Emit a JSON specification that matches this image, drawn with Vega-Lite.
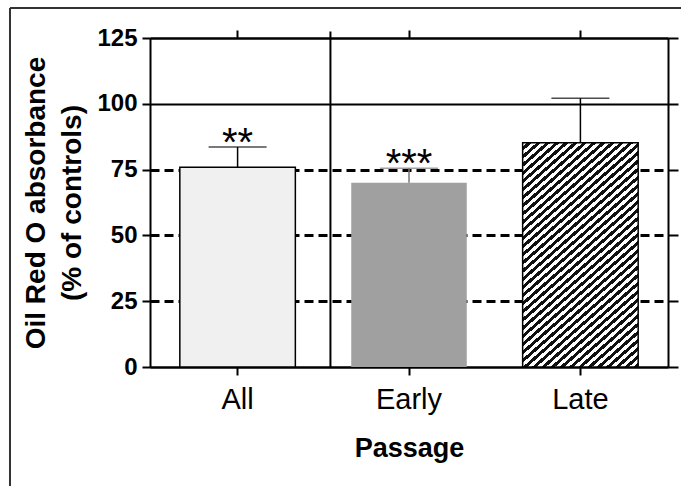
{
  "$schema": "https://vega.github.io/schema/vega-lite/v6.json",
  "width": 518,
  "height": 329,
  "autosize": "none",
  "padding": {"left": 150, "top": 38, "right": 13, "bottom": 119},
  "background": "white",
  "config": {"font": "Liberation Sans", "view": {"stroke": null}},
  "data": {"values": [
    {"group": "All", "value": 75.9, "upper": 83.6, "sig": "**"},
    {"group": "Early", "value": 70.0, "upper": 75.5, "sig": "***"},
    {"group": "Late", "value": 85.2, "upper": 102.1, "sig": ""}
  ]},
  "resolve": {"axis": {"x": "independent", "y": "independent"}},
  "layer": [
    {
      "transform": [{"filter": "datum.group === 'All'"}],
      "mark": {"type": "bar", "fill": "#f0f0f0", "stroke": "#000", "strokeWidth": 1.5},
      "encoding": {
        "x": {"field": "group", "type": "nominal",
          "scale": {"domain": ["All", "Early", "Late"], "paddingInner": 0.326, "paddingOuter": 0.174},
          "axis": {"orient": "bottom", "title": "Passage", "labelAngle": 0, "labelFontSize": 29, "labelFontWeight": "normal", "labelColor": "#000", "labelPadding": 10, "tickSize": 8, "tickWidth": 2, "tickColor": "#000", "domainWidth": 2, "domainColor": "#000", "titleFontSize": 27, "titleFontWeight": "bold", "titleColor": "#000", "titlePadding": 21}},
        "y": {"field": "value", "type": "quantitative",
          "scale": {"domain": [0, 125], "nice": false},
          "axis": {"orient": "left", "values": [0, 25, 50, 75, 100, 125], "title": ["Oil Red O absorbance", "(% of controls)"], "labelFontSize": 24, "labelFontWeight": "bold", "labelColor": "#000", "labelPadding": 5, "tickSize": 8, "tickWidth": 2, "tickColor": "#000", "domainWidth": 2, "domainColor": "#000", "grid": true, "gridColor": "#000", "gridOpacity": 1,
            "gridDash": {"condition": {"test": "datum.value >= 100 || datum.value === 0", "value": []}, "value": [9, 5]},
            "gridWidth": {"condition": {"test": "datum.value >= 100 || datum.value === 0", "value": 2}, "value": 3},
            "titleFontSize": 28, "titleFontWeight": "bold", "titleColor": "#000", "titleLineHeight": 36, "titlePadding": 10}}
      }
    },
    {
      "transform": [{"filter": "datum.group === 'Early'"}],
      "mark": {"type": "bar", "fill": "#a0a0a0"},
      "encoding": {
        "x": {"field": "group", "type": "nominal", "axis": null},
        "y": {"field": "value", "type": "quantitative", "axis": null}
      }
    },
    {
      "transform": [{"filter": "datum.group === 'Late'"}],
      "mark": {"type": "bar", "stroke": "#000", "strokeWidth": 1.5,
        "fill": {"gradient": "linear", "x1": 0, "y1": 0, "x2": 0.548, "y2": 1.205, "stops": [
          {"offset": 0, "color": "#fff"}, {"offset": 0.0125, "color": "#fff"}, {"offset": 0.0125, "color": "#111"}, {"offset": 0.025, "color": "#111"},
          {"offset": 0.025, "color": "#fff"}, {"offset": 0.0375, "color": "#fff"}, {"offset": 0.0375, "color": "#111"}, {"offset": 0.05, "color": "#111"},
          {"offset": 0.05, "color": "#fff"}, {"offset": 0.0625, "color": "#fff"}, {"offset": 0.0625, "color": "#111"}, {"offset": 0.075, "color": "#111"},
          {"offset": 0.075, "color": "#fff"}, {"offset": 0.0875, "color": "#fff"}, {"offset": 0.0875, "color": "#111"}, {"offset": 0.1, "color": "#111"},
          {"offset": 0.1, "color": "#fff"}, {"offset": 0.1125, "color": "#fff"}, {"offset": 0.1125, "color": "#111"}, {"offset": 0.125, "color": "#111"},
          {"offset": 0.125, "color": "#fff"}, {"offset": 0.1375, "color": "#fff"}, {"offset": 0.1375, "color": "#111"}, {"offset": 0.15, "color": "#111"},
          {"offset": 0.15, "color": "#fff"}, {"offset": 0.1625, "color": "#fff"}, {"offset": 0.1625, "color": "#111"}, {"offset": 0.175, "color": "#111"},
          {"offset": 0.175, "color": "#fff"}, {"offset": 0.1875, "color": "#fff"}, {"offset": 0.1875, "color": "#111"}, {"offset": 0.2, "color": "#111"},
          {"offset": 0.2, "color": "#fff"}, {"offset": 0.2125, "color": "#fff"}, {"offset": 0.2125, "color": "#111"}, {"offset": 0.225, "color": "#111"},
          {"offset": 0.225, "color": "#fff"}, {"offset": 0.2375, "color": "#fff"}, {"offset": 0.2375, "color": "#111"}, {"offset": 0.25, "color": "#111"},
          {"offset": 0.25, "color": "#fff"}, {"offset": 0.2625, "color": "#fff"}, {"offset": 0.2625, "color": "#111"}, {"offset": 0.275, "color": "#111"},
          {"offset": 0.275, "color": "#fff"}, {"offset": 0.2875, "color": "#fff"}, {"offset": 0.2875, "color": "#111"}, {"offset": 0.3, "color": "#111"},
          {"offset": 0.3, "color": "#fff"}, {"offset": 0.3125, "color": "#fff"}, {"offset": 0.3125, "color": "#111"}, {"offset": 0.325, "color": "#111"},
          {"offset": 0.325, "color": "#fff"}, {"offset": 0.3375, "color": "#fff"}, {"offset": 0.3375, "color": "#111"}, {"offset": 0.35, "color": "#111"},
          {"offset": 0.35, "color": "#fff"}, {"offset": 0.3625, "color": "#fff"}, {"offset": 0.3625, "color": "#111"}, {"offset": 0.375, "color": "#111"},
          {"offset": 0.375, "color": "#fff"}, {"offset": 0.3875, "color": "#fff"}, {"offset": 0.3875, "color": "#111"}, {"offset": 0.4, "color": "#111"},
          {"offset": 0.4, "color": "#fff"}, {"offset": 0.4125, "color": "#fff"}, {"offset": 0.4125, "color": "#111"}, {"offset": 0.425, "color": "#111"},
          {"offset": 0.425, "color": "#fff"}, {"offset": 0.4375, "color": "#fff"}, {"offset": 0.4375, "color": "#111"}, {"offset": 0.45, "color": "#111"},
          {"offset": 0.45, "color": "#fff"}, {"offset": 0.4625, "color": "#fff"}, {"offset": 0.4625, "color": "#111"}, {"offset": 0.475, "color": "#111"},
          {"offset": 0.475, "color": "#fff"}, {"offset": 0.4875, "color": "#fff"}, {"offset": 0.4875, "color": "#111"}, {"offset": 0.5, "color": "#111"},
          {"offset": 0.5, "color": "#fff"}, {"offset": 0.5125, "color": "#fff"}, {"offset": 0.5125, "color": "#111"}, {"offset": 0.525, "color": "#111"},
          {"offset": 0.525, "color": "#fff"}, {"offset": 0.5375, "color": "#fff"}, {"offset": 0.5375, "color": "#111"}, {"offset": 0.55, "color": "#111"},
          {"offset": 0.55, "color": "#fff"}, {"offset": 0.5625, "color": "#fff"}, {"offset": 0.5625, "color": "#111"}, {"offset": 0.575, "color": "#111"},
          {"offset": 0.575, "color": "#fff"}, {"offset": 0.5875, "color": "#fff"}, {"offset": 0.5875, "color": "#111"}, {"offset": 0.6, "color": "#111"},
          {"offset": 0.6, "color": "#fff"}, {"offset": 0.6125, "color": "#fff"}, {"offset": 0.6125, "color": "#111"}, {"offset": 0.625, "color": "#111"},
          {"offset": 0.625, "color": "#fff"}, {"offset": 0.6375, "color": "#fff"}, {"offset": 0.6375, "color": "#111"}, {"offset": 0.65, "color": "#111"},
          {"offset": 0.65, "color": "#fff"}, {"offset": 0.6625, "color": "#fff"}, {"offset": 0.6625, "color": "#111"}, {"offset": 0.675, "color": "#111"},
          {"offset": 0.675, "color": "#fff"}, {"offset": 0.6875, "color": "#fff"}, {"offset": 0.6875, "color": "#111"}, {"offset": 0.7, "color": "#111"},
          {"offset": 0.7, "color": "#fff"}, {"offset": 0.7125, "color": "#fff"}, {"offset": 0.7125, "color": "#111"}, {"offset": 0.725, "color": "#111"},
          {"offset": 0.725, "color": "#fff"}, {"offset": 0.7375, "color": "#fff"}, {"offset": 0.7375, "color": "#111"}, {"offset": 0.75, "color": "#111"},
          {"offset": 0.75, "color": "#fff"}, {"offset": 0.7625, "color": "#fff"}, {"offset": 0.7625, "color": "#111"}, {"offset": 0.775, "color": "#111"},
          {"offset": 0.775, "color": "#fff"}, {"offset": 0.7875, "color": "#fff"}, {"offset": 0.7875, "color": "#111"}, {"offset": 0.8, "color": "#111"},
          {"offset": 0.8, "color": "#fff"}, {"offset": 0.8125, "color": "#fff"}, {"offset": 0.8125, "color": "#111"}, {"offset": 0.825, "color": "#111"},
          {"offset": 0.825, "color": "#fff"}, {"offset": 0.8375, "color": "#fff"}, {"offset": 0.8375, "color": "#111"}, {"offset": 0.85, "color": "#111"},
          {"offset": 0.85, "color": "#fff"}, {"offset": 0.8625, "color": "#fff"}, {"offset": 0.8625, "color": "#111"}, {"offset": 0.875, "color": "#111"},
          {"offset": 0.875, "color": "#fff"}, {"offset": 0.8875, "color": "#fff"}, {"offset": 0.8875, "color": "#111"}, {"offset": 0.9, "color": "#111"},
          {"offset": 0.9, "color": "#fff"}, {"offset": 0.9125, "color": "#fff"}, {"offset": 0.9125, "color": "#111"}, {"offset": 0.925, "color": "#111"},
          {"offset": 0.925, "color": "#fff"}, {"offset": 0.9375, "color": "#fff"}, {"offset": 0.9375, "color": "#111"}, {"offset": 0.95, "color": "#111"},
          {"offset": 0.95, "color": "#fff"}, {"offset": 0.9625, "color": "#fff"}, {"offset": 0.9625, "color": "#111"}, {"offset": 0.975, "color": "#111"},
          {"offset": 0.975, "color": "#fff"}, {"offset": 0.9875, "color": "#fff"}, {"offset": 0.9875, "color": "#111"}, {"offset": 1, "color": "#111"}
        ]}},
      "encoding": {
        "x": {"field": "group", "type": "nominal", "axis": null},
        "y": {"field": "value", "type": "quantitative", "axis": null}
      }
    },
    {
      "mark": {"type": "rule", "strokeWidth": 1.5},
      "encoding": {
        "x": {"field": "group", "type": "nominal",
          "axis": {"orient": "top", "labels": false, "title": null, "tickSize": 8, "tickWidth": 2, "tickColor": "#000", "domainWidth": 2, "domainColor": "#000", "grid": false}},
        "y": {"field": "value", "type": "quantitative",
          "axis": {"orient": "right", "values": [0, 25, 50, 75, 100, 125], "labels": false, "title": null, "tickSize": 10, "tickWidth": 2, "tickColor": "#000", "domainWidth": 2, "domainColor": "#000", "grid": false}},
        "y2": {"field": "upper"},
        "color": {"condition": {"test": "datum.group === 'Early'", "value": "#777"}, "value": "#000"}
      }
    },
    {
      "mark": {"type": "tick", "size": 58, "thickness": 1.5},
      "encoding": {
        "x": {"field": "group", "type": "nominal", "axis": null},
        "y": {"field": "upper", "type": "quantitative", "axis": null},
        "color": {"condition": {"test": "datum.group === 'Early'", "value": "#777"}, "value": "#000"}
      }
    },
    {
      "mark": {"type": "text", "fontSize": 40, "baseline": "alphabetic", "dy": 9, "color": "#000"},
      "encoding": {
        "x": {"field": "group", "type": "nominal", "axis": null},
        "y": {"field": "upper", "type": "quantitative", "axis": null},
        "text": {"field": "sig"}
      }
    },
    {
      "data": {"values": [{}]},
      "mark": {"type": "rule", "strokeWidth": 2, "color": "#000"},
      "encoding": {
        "x": {"datum": "Early", "type": "nominal", "bandPosition": -0.18, "axis": null},
        "y": {"datum": 0, "type": "quantitative", "axis": null},
        "y2": {"datum": 127.5}
      }
    },
    {
      "data": {"values": [{}]},
      "mark": {"type": "rule", "strokeWidth": 2, "color": "#333"},
      "encoding": {
        "x": {"datum": "All", "type": "nominal", "bandPosition": -1.47, "axis": null},
        "y": {"datum": 136.4, "type": "quantitative", "axis": null},
        "y2": {"datum": -46}
      }
    },
    {
      "data": {"values": [{}]},
      "mark": {"type": "rule", "strokeWidth": 2, "color": "#333"},
      "encoding": {
        "x": {"datum": "All", "type": "nominal", "bandPosition": -1.47, "axis": null},
        "x2": {"datum": "Late", "bandPosition": 1.5},
        "y": {"datum": 136.4, "type": "quantitative", "axis": null}
      }
    }
  ]
}
